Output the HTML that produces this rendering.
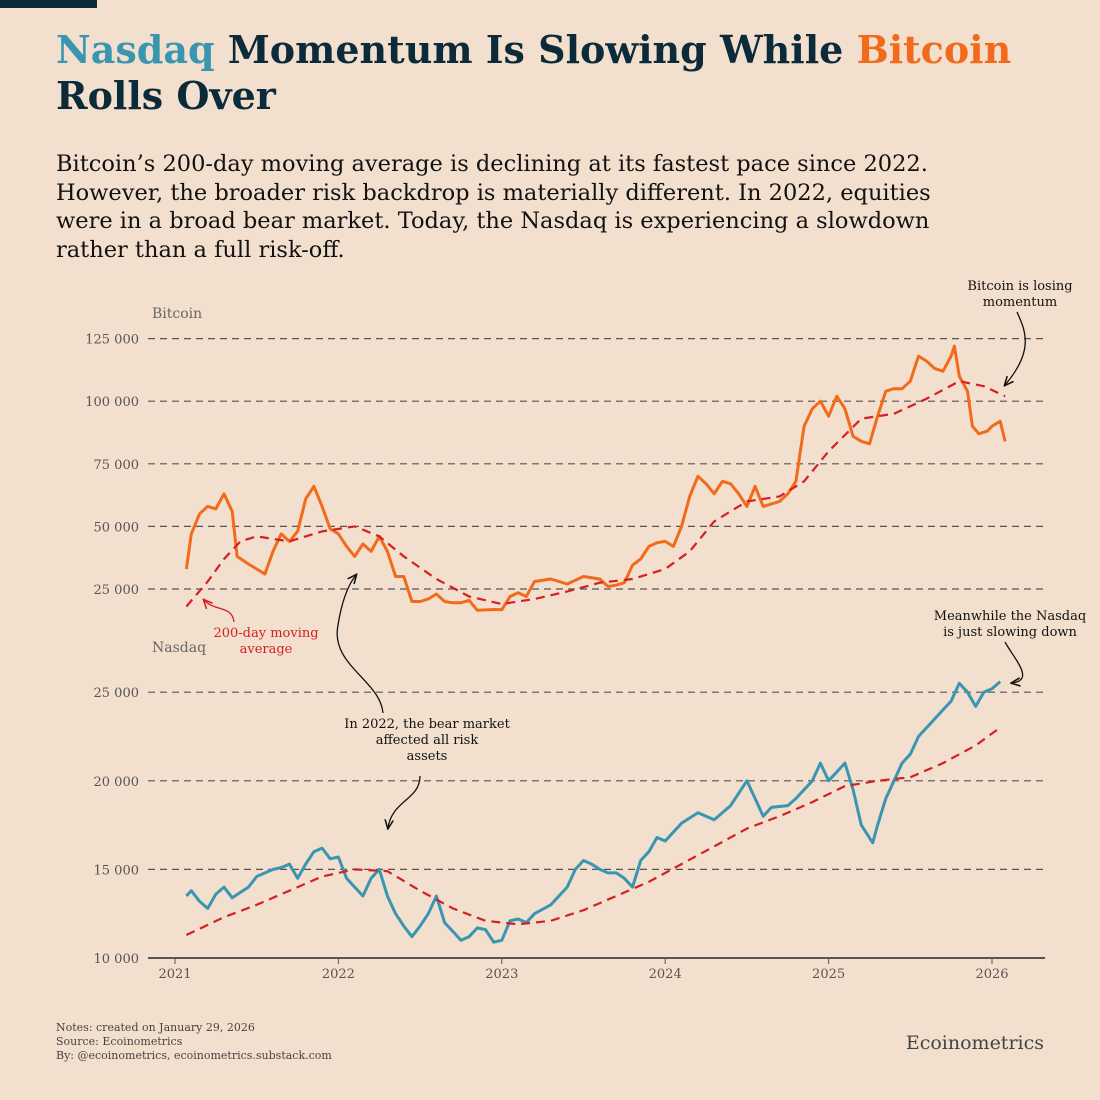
<!DOCTYPE html>
<html><head><meta charset="utf-8"><style>
body{margin:0;background:#f3dfcd;}
#wrap{position:relative;width:1100px;height:1100px;background:#f3dfcd;font-family:"DejaVu Serif",serif;overflow:hidden}
.t{position:absolute;margin:0}
</style></head><body>
<div id="wrap">
<div class="t" style="left:0;top:0;width:97px;height:8px;background:#0b2a3a"></div>
<h1 class="t" style="left:56px;top:27px;font-size:38px;line-height:46px;font-weight:bold;color:#0b2a3a;width:1040px;white-space:nowrap"><span style="color:#3a96b0">Nasdaq</span> Momentum Is Slowing While <span style="color:#f26a1b">Bitcoin</span><br>Rolls Over</h1>
<p class="t" style="left:56px;top:150px;font-size:22.5px;line-height:28.5px;color:#111;width:1040px;white-space:nowrap">Bitcoin’s 200-day moving average is declining at its fastest pace since 2022.<br>However, the broader risk backdrop is materially different. In 2022, equities<br>were in a broad bear market. Today, the Nasdaq is experiencing a slowdown<br>rather than a full risk-off.</p>
<svg id="chart" width="1100" height="1100" style="position:absolute;left:0;top:0" font-family="DejaVu Serif, serif">
<defs><marker id="ah" viewBox="0 0 10 10" refX="8" refY="5" markerWidth="8" markerHeight="8" orient="auto"><path d="M0,1 L9,5 L0,9" fill="none" stroke="#111" stroke-width="1.5"/></marker>
<marker id="ahr" viewBox="0 0 10 10" refX="8" refY="5" markerWidth="8" markerHeight="8" orient="auto"><path d="M0,1 L9,5 L0,9" fill="none" stroke="#d42020" stroke-width="1.5"/></marker></defs>
</svg>
<div class="t" style="left:56px;top:1021px;font-size:11px;line-height:14px;color:#444">Notes: created on January 29, 2026<br>Source: Ecoinometrics<br>By: @ecoinometrics, ecoinometrics.substack.com</div>
<div class="t" style="right:56px;top:1032px;font-size:19px;color:#444">Ecoinometrics</div>
</div>
<script>
const yearTicks=[2021,2022,2023,2024,2025,2026];
const btcTicks=[25000,50000,75000,100000,125000];
const ndqTicks=[10000,15000,20000,25000];
const btcT=[2021.07,2021.1,2021.15,2021.2,2021.25,2021.3,2021.35,2021.38,2021.45,2021.5,2021.55,2021.6,2021.65,2021.7,2021.75,2021.8,2021.85,2021.9,2021.95,2022.0,2022.05,2022.1,2022.15,2022.2,2022.25,2022.3,2022.35,2022.4,2022.45,2022.5,2022.55,2022.6,2022.65,2022.7,2022.75,2022.8,2022.85,2022.95,2023.0,2023.05,2023.1,2023.15,2023.2,2023.3,2023.4,2023.5,2023.6,2023.65,2023.7,2023.75,2023.8,2023.85,2023.9,2023.95,2024.0,2024.05,2024.1,2024.15,2024.2,2024.25,2024.3,2024.35,2024.4,2024.45,2024.5,2024.55,2024.6,2024.65,2024.7,2024.75,2024.8,2024.85,2024.9,2024.95,2025.0,2025.05,2025.1,2025.15,2025.2,2025.25,2025.3,2025.35,2025.4,2025.45,2025.5,2025.55,2025.6,2025.65,2025.7,2025.75,2025.77,2025.8,2025.85,2025.88,2025.92,2025.97,2026.0,2026.05,2026.08];
const btcV=[33000,47000,55000,58000,57000,63000,56000,38000,35000,33000,31000,40000,47000,44000,48000,61000,66000,58000,49000,47000,42000,38000,43000,40000,46000,40000,30000,30000,20000,20000,21000,23000,20000,19500,19500,20500,16500,16800,16700,22000,23500,22000,28000,29000,27000,30000,29000,26000,26500,27500,34500,37000,42000,43500,44000,42000,50000,62000,70000,67000,63000,68000,67000,63000,58000,66000,58000,59000,60000,63000,68000,90000,97000,100000,94000,102000,97000,86000,84000,83000,94000,104000,105000,105000,108000,118000,116000,113000,112000,118000,122000,110000,104000,90000,87000,88000,90000,92000,84000];
const btcMaT=[2021.07,2021.2,2021.3,2021.4,2021.5,2021.7,2021.9,2022.1,2022.25,2022.4,2022.6,2022.8,2023.0,2023.2,2023.4,2023.6,2023.8,2024.0,2024.15,2024.3,2024.5,2024.7,2024.85,2025.0,2025.2,2025.4,2025.6,2025.8,2025.95,2026.08];
const btcMaV=[18000,28000,37000,44000,46000,44000,48000,50000,46000,38000,29000,22000,19000,21000,24000,27500,29000,33000,40000,52000,60000,62000,68000,80000,93000,95000,101000,108000,106000,102000];
const ndqT=[2021.07,2021.1,2021.15,2021.2,2021.25,2021.3,2021.35,2021.45,2021.5,2021.6,2021.65,2021.7,2021.75,2021.8,2021.85,2021.9,2021.95,2022.0,2022.05,2022.1,2022.15,2022.2,2022.25,2022.3,2022.35,2022.4,2022.45,2022.5,2022.55,2022.6,2022.65,2022.7,2022.75,2022.8,2022.85,2022.9,2022.95,2023.0,2023.05,2023.1,2023.15,2023.2,2023.3,2023.4,2023.45,2023.5,2023.55,2023.6,2023.65,2023.7,2023.75,2023.8,2023.85,2023.9,2023.95,2024.0,2024.1,2024.2,2024.3,2024.4,2024.5,2024.55,2024.6,2024.65,2024.75,2024.8,2024.85,2024.9,2024.95,2025.0,2025.1,2025.15,2025.2,2025.27,2025.3,2025.35,2025.4,2025.45,2025.5,2025.55,2025.6,2025.65,2025.7,2025.75,2025.8,2025.85,2025.9,2025.95,2026.0,2026.05];
const ndqV=[13500,13800,13200,12800,13600,14000,13400,14000,14600,15000,15100,15300,14500,15300,16000,16200,15600,15700,14500,14000,13500,14500,15000,13500,12500,11800,11200,11800,12500,13500,12000,11500,11000,11200,11700,11600,10900,11000,12100,12200,12000,12500,13000,14000,15000,15500,15300,15000,14800,14800,14500,14000,15500,16000,16800,16600,17600,18200,17800,18600,20000,19000,18000,18500,18600,19000,19500,20000,21000,20000,21000,19500,17500,16500,17500,19000,20000,21000,21500,22500,23000,23500,24000,24500,25500,25000,24200,25000,25200,25600];
const ndqMaT=[2021.07,2021.3,2021.5,2021.7,2021.9,2022.1,2022.3,2022.5,2022.7,2022.9,2023.1,2023.3,2023.5,2023.7,2023.9,2024.1,2024.3,2024.5,2024.7,2024.9,2025.1,2025.3,2025.5,2025.7,2025.9,2026.05];
const ndqMaV=[11300,12300,13000,13800,14600,15000,14900,13800,12800,12100,11900,12100,12700,13500,14300,15300,16300,17300,18000,18800,19700,20000,20200,21000,22000,23000];

const NS='http://www.w3.org/2000/svg';
const svg=document.getElementById('chart');
const xS=t=>175+(t-2021)*163.4;
const yB=v=>589-(v-25000)/25000*62.6;
const yN=v=>958-(v-10000)/1000*17.72;
function mk(tag,attrs,parent){const e=document.createElementNS(NS,tag);for(const k in attrs)e.setAttribute(k,attrs[k]);(parent||svg).appendChild(e);return e;}
function txt(s,attrs){const e=mk('text',attrs);e.textContent=s;return e;}
btcTicks.forEach(v=>{
  const g=mk('line',{x1:148,x2:1045,y1:yB(v),y2:yB(v),stroke:'#555','stroke-width':1.2,'stroke-dasharray':'7,5'});
  
  
  const l=txt(v.toLocaleString('en-US').replace(/,/g,' '),{x:139,y:yB(v)+5,'text-anchor':'end','font-size':13,fill:'#555'});
  
  
});
ndqTicks.forEach(v=>{
  const solid=v===10000;
  const g=mk('line',{x1:148,x2:1045,y1:yN(v),y2:yN(v),stroke:'#555','stroke-width':solid?2:1.2,'stroke-dasharray':solid?'none':'7,5'});
  
  
  const l=txt(v.toLocaleString('en-US').replace(/,/g,' '),{x:139,y:yN(v)+5,'text-anchor':'end','font-size':13,fill:'#555'});
  
  
});
yearTicks.forEach(y=>{
  const tk=mk('line',{x1:xS(y),x2:xS(y),y1:959,y2:964,stroke:'#555','stroke-width':1});
  
  
  const l=txt(String(y),{x:xS(y),y:978,'text-anchor':'middle','font-size':13,fill:'#555'});
  
  
});
const p1=txt('Bitcoin',{x:152,y:318,'font-size':14,fill:'#666'});


const p2=txt('Nasdaq',{x:152,y:652,'font-size':14,fill:'#666'});


function line(T,V,ys,attrs,name){
  const d=T.map((t,i)=>(i?'L':'M')+xS(t).toFixed(1)+','+ys(V[i]).toFixed(1)).join(' ');
  const p=mk('path',Object.assign({d:d,fill:'none','stroke-linejoin':'round'},attrs));
  
  
}
line(btcT,btcV,yB,{stroke:'#f26a1b','stroke-width':3},'bitcoin-price-line');
line(btcMaT,btcMaV,yB,{stroke:'#d42020','stroke-width':2.2,'stroke-dasharray':'9,6'},'bitcoin-200d-ma-line');
line(ndqT,ndqV,yN,{stroke:'#3a96b0','stroke-width':3},'nasdaq-price-line');
line(ndqMaT,ndqMaV,yN,{stroke:'#d42020','stroke-width':2.2,'stroke-dasharray':'9,6'},'nasdaq-200d-ma-line');
function ann(lines,x,y,color,name){
  lines.forEach((s,i)=>{const e=txt(s,{x:x,y:y+i*16,'text-anchor':'middle','font-size':13,fill:color});
  
  });
}
ann(['Bitcoin is losing','momentum'],1020,290,'#111','annotation-bitcoin-losing-momentum');
ann(['200-day moving','average'],266,637,'#d42020','annotation-200-day-ma');
ann(['Meanwhile the Nasdaq','is just slowing down'],1010,620,'#111','annotation-nasdaq-slowing');
ann(['In 2022, the bear market','affected all risk','assets'],427,728,'#111','annotation-2022-bear-market');
function arrow(d,red,name){const a=mk('path',{d:d,fill:'none',stroke:red?'#d42020':'#111','stroke-width':1.3,'marker-end':red?'url(#ahr)':'url(#ah)'});
  
  }
arrow('M1017,312 C1025,330 1035,350 1005,385',false,'arrow-bitcoin');
arrow('M234,622 C232,605 215,612 204,600',true,'arrow-ma');
arrow('M1005,642 C1015,660 1035,680 1012,683',false,'arrow-nasdaq');
arrow('M383,713 C380,680 330,665 338,625 C342,600 348,585 356,575',false,'arrow-2022-btc');
arrow('M420,776 C420,800 392,800 388,828',false,'arrow-2022-nasdaq');
</script>
</body></html>
